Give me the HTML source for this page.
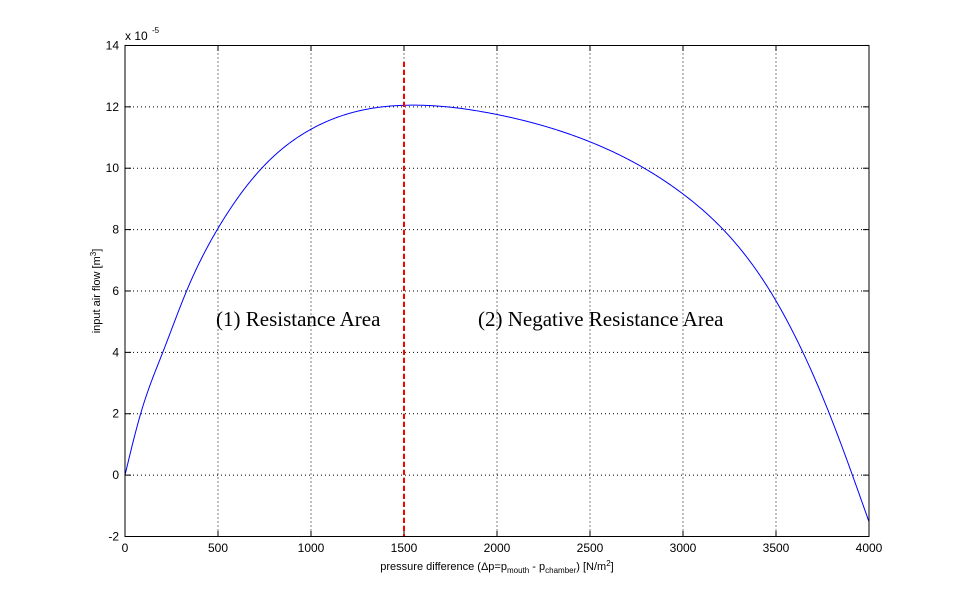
<!DOCTYPE html>
<html><head><meta charset="utf-8"><style>
body{margin:0;background:#fff}
svg{display:block}
text{font-family:"Liberation Sans",sans-serif;font-size:12px;fill:#000}
</style></head><body>
<svg id="s" width="960" height="603" viewBox="0 0 960 603" xmlns="http://www.w3.org/2000/svg">
<rect width="960" height="603" fill="#fff"/>
<g id="grid" stroke="#000" stroke-width="1" stroke-dasharray="1,3"></g>
<g id="ticks" stroke="#000" stroke-width="1"></g>
<g id="labels"></g>
<path id="curve" fill="none" stroke="#0000ff" stroke-width="1"/>
<line x1="404" y1="62" x2="404" y2="537" stroke="#ff0000" stroke-width="2" stroke-dasharray="5,3"/>
<rect x="125" y="45.5" width="744" height="491" fill="none" stroke="#000" stroke-width="1"/>
<text x="216" y="326" style="font-family:'Liberation Serif',serif;font-size:21px">(1) Resistance Area</text>
<text x="478" y="326" style="font-family:'Liberation Serif',serif;font-size:21px">(2) Negative Resistance Area</text>
<text x="125" y="40" style="font-size:12px">x 10</text>
<text x="152" y="33" style="font-size:8px">-5</text>
<text transform="translate(100,291) rotate(-90)" text-anchor="middle" style="font-size:11px">input air flow [m<tspan dy="-4" style="font-size:8px">3</tspan><tspan dy="4">]</tspan></text>
<text x="497" y="570" text-anchor="middle" style="font-size:11px">pressure difference (Δp=p<tspan dy="3" style="font-size:8px">mouth</tspan><tspan dy="-3"> - p</tspan><tspan dy="3" style="font-size:8px">chamber</tspan><tspan dy="-3">)  [N/m</tspan><tspan dy="-4" style="font-size:8px">2</tspan><tspan dy="4">]</tspan></text>
</svg>
<script>
var X=function(v){return 125+v*0.186},Y=function(v){return 536.5-(v+2)*30.69};
var ns="http://www.w3.org/2000/svg";
function el(p,t,a,txt){var e=document.createElementNS(ns,t);for(var k in a)e.setAttribute(k,a[k]);if(txt!=null)e.textContent=txt;document.getElementById(p).appendChild(e);}
for(var i=0;i<=8;i++){var x=X(i*500);
 if(i>0&&i<8)el("grid","line",{x1:x,y1:45.5,x2:x,y2:536.5});
 el("ticks","line",{x1:x,y1:536.5,x2:x,y2:531});el("ticks","line",{x1:x,y1:45.5,x2:x,y2:51});
 el("labels","text",{x:x,y:552,"text-anchor":"middle"},String(i*500));}
for(var v=-2;v<=14;v+=2){var y=Y(v);
 if(v>-2&&v<14)el("grid","line",{x1:125,y1:y,x2:869,y2:y});
 el("ticks","line",{x1:125,y1:y,x2:131,y2:y});el("ticks","line",{x1:869,y1:y,x2:863,y2:y});
 el("labels","text",{x:119,y:y+4,"text-anchor":"end"},String(v));}
var P=[[0,0],[84,2],[203,4],[331,6],[496,8],[735,10],[1000,11.27],[1500,12.05],[2000,11.75],[2500,10.86],[3000,9.16],[3468,6],[3787,2],[4000,-1.52]];
var n=P.length,xs=P.map(function(p){return p[0]}),ys=P.map(function(p){return p[1]});
var h=[],al=[],l=[1],mu=[0],z=[0],c=new Array(n).fill(0),b=[],dd=[];
for(var i=0;i<n-1;i++)h[i]=xs[i+1]-xs[i];
for(var i=1;i<n-1;i++)al[i]=3/h[i]*(ys[i+1]-ys[i])-3/h[i-1]*(ys[i]-ys[i-1]);
for(var i=1;i<n-1;i++){l[i]=2*(xs[i+1]-xs[i-1])-h[i-1]*mu[i-1];mu[i]=h[i]/l[i];z[i]=(al[i]-h[i-1]*z[i-1])/l[i];}
for(var j=n-2;j>=0;j--){c[j]=(j==0?0:z[j])-(j==0?0:mu[j])*c[j+1];if(j==0)c[0]=0;b[j]=(ys[j+1]-ys[j])/h[j]-h[j]*(c[j+1]+2*c[j])/3;dd[j]=(c[j+1]-c[j])/(3*h[j]);}
function f(x){var i=0;while(i<n-2&&x>xs[i+1])i++;var t=x-xs[i];return ys[i]+b[i]*t+c[i]*t*t+dd[i]*t*t*t;}
var d="";for(var x=0;x<=4000;x+=4){d+=(x?" L":"M")+X(x).toFixed(2)+","+Y(f(x)).toFixed(2);}
document.getElementById("curve").setAttribute("d",d);
</script>
</body></html>
